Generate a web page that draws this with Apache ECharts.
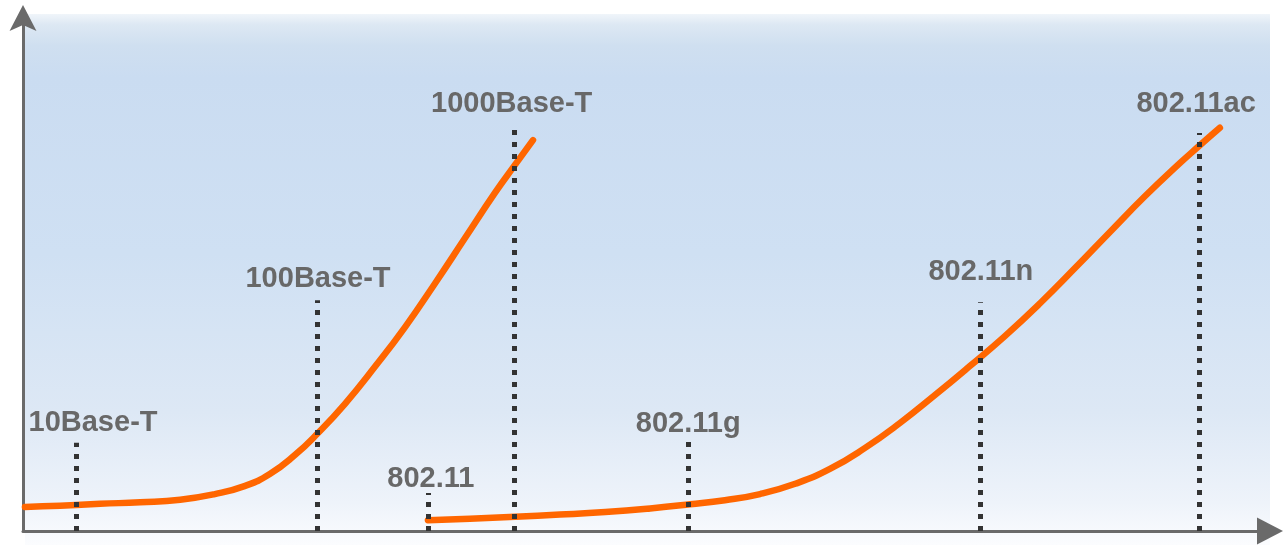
<!DOCTYPE html>
<html>
<head>
<meta charset="utf-8">
<title>Ethernet and Wi-Fi speed evolution</title>
<script src="https://cdn.jsdelivr.net/npm/echarts@6/dist/echarts.min.js"></script>
<style>
  html, body { margin: 0; padding: 0; background: #ffffff; }
  #chart { width: 1287px; height: 548px; }
</style>
</head>
<body>
<div id="chart"></div>
<script>
// Standards: name, year of introduction, height of the marker line
const standardNames  = ['10Base-T', '100Base-T', '1000Base-T', '802.11', '802.11g', '802.11n', '802.11ac'];
const standardYears  = [1990.0, 1995.0, 1999.1, 1997.3, 2002.7, 2008.75, 2013.3];
const standardLevels = [17.2, 45.0, 78.6, 7.4, 18.3, 44.6, 77.6];

// Wired Ethernet adoption curve [year, level]
const ethernetCurve = [
  [1988.94, 4.7], [1989.67, 4.9], [1990.50, 5.3], [1991.33, 5.6], [1992.16, 6.1],
  [1992.88, 7.2], [1993.51, 8.8], [1994.02, 11.1], [1994.54, 14.8], [1995.02, 19.1],
  [1995.58, 24.8], [1996.20, 32.0], [1996.83, 39.8], [1997.45, 48.3], [1998.07, 57.1],
  [1998.69, 65.9], [1999.11, 71.4], [1999.48, 76.2]
];

// Wireless (802.11) adoption curve [year, level]
const wifiCurve = [
  [1997.30, 2.1], [1998.17, 2.4], [1999.11, 2.8], [2000.04, 3.2], [2000.98, 3.7],
  [2001.91, 4.4], [2002.74, 5.2], [2003.46, 6.0], [2004.19, 7.2], [2004.92, 9.2],
  [2005.64, 12.1], [2006.37, 16.2], [2007.10, 21.1], [2007.82, 26.5], [2008.55, 32.2],
  [2009.27, 38.0], [2010.00, 44.4], [2010.73, 51.3], [2011.45, 58.3], [2012.18, 65.3],
  [2012.90, 71.7], [2013.28, 74.9], [2013.73, 78.6]
];

const xMin = 1988.9, xMax = 2014.77;
const yMin = 0, yMax = 100;

const AXIS_COLOR = '#6a6a6a';
const CURVE_COLOR = '#ff6600';
const LABEL_COLOR = '#686868';

// Per-label nudges so that each name sits clear of its marker and the axis
const labelOffsets = [[17, 1], [1, -1], [-3, -3], [3, 6], [0, 7], [1, -10], [-3, -8]];

const chart = echarts.init(document.getElementById('chart'), null, { renderer: 'canvas' });

// Vertical dotted marker for each standard, labelled at its top
const markerLines = standardNames.map(function (name, i) {
  return [
    { coord: [standardYears[i], yMin], name: name, label: { offset: labelOffsets[i] } },
    { coord: [standardYears[i], standardLevels[i]], name: name }
  ];
});

const curveStyle = { color: CURVE_COLOR, width: 6.5, cap: 'round', join: 'round' };

const option = {
  animation: false,
  graphic: [{
    type: 'rect',
    z: -10,
    silent: true,
    shape: { x: 25, y: 14, width: 1245, height: 531 },
    style: {
      fill: new echarts.graphic.LinearGradient(0, 0, 0, 1, [
        { offset: 0.00, color: '#f0f5fa' },
        { offset: 0.02, color: '#dde8f3' },
        { offset: 0.06, color: '#cfdff0' },
        { offset: 0.12, color: '#cadcf1' },
        { offset: 0.45, color: '#cfe0f3' },
        { offset: 0.75, color: '#dde8f5' },
        { offset: 0.92, color: '#eef3fa' },
        { offset: 1.00, color: '#fbfcfe' }
      ])
    }
  }],
  grid: { left: 23, right: 17, top: 18, bottom: 17, containLabel: false },
  xAxis: {
    type: 'value',
    min: xMin,
    max: xMax,
    axisLine: {
      show: true,
      onZero: false,
      symbol: ['none', 'path://M13.5,0 L27,26 L0,26 Z'],
      symbolSize: [27, 26],
      lineStyle: { color: AXIS_COLOR, width: 3 }
    },
    axisTick: { show: false },
    axisLabel: { show: false },
    splitLine: { show: false }
  },
  yAxis: {
    type: 'value',
    min: yMin,
    max: yMax,
    axisLine: {
      show: true,
      onZero: false,
      symbol: ['none', 'path://M13.5,0 L27,26 L13.5,20 L0,26 Z'],
      symbolSize: [27, 26],
      lineStyle: { color: AXIS_COLOR, width: 3 }
    },
    axisTick: { show: false },
    axisLabel: { show: false },
    splitLine: { show: false }
  },
  series: [
    {
      name: 'standards',
      type: 'line',
      data: [],
      z: 2,
      silent: true,
      markLine: {
        silent: true,
        symbol: ['none', 'none'],
        animation: false,
        lineStyle: { color: '#333333', width: 5, type: [5, 7], cap: 'butt', opacity: 1 },
        emphasis: { disabled: true },
        label: {
          show: true,
          position: 'end',
          formatter: '{b}',
          color: LABEL_COLOR,
          fontFamily: '"Liberation Sans", Arial, sans-serif',
          fontWeight: 'bold',
          fontSize: 29,
          distance: 6
        },
        data: markerLines
      }
    },
    {
      name: 'Ethernet',
      type: 'line',
      data: ethernetCurve,
      smooth: 0.5,
      showSymbol: false,
      z: 3,
      lineStyle: curveStyle
    },
    {
      name: '802.11',
      type: 'line',
      data: wifiCurve,
      smooth: 0.5,
      showSymbol: false,
      z: 3,
      lineStyle: curveStyle
    }
  ]
};

chart.setOption(option);
</script>
</body>
</html>
